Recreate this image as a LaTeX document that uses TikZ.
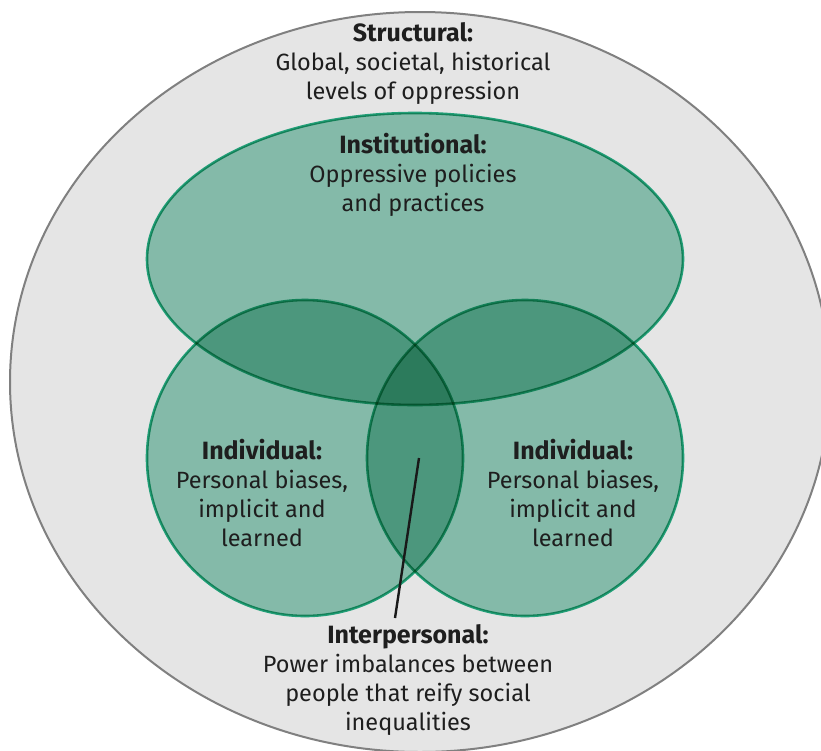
\documentclass[tikz,border=0pt]{standalone}
\usepackage{fontspec}
\setmainfont{Fira Sans}
\definecolor{bggray}{RGB}{229,229,229}
\definecolor{rimgray}{RGB}{128,128,128}
\definecolor{lensfill}{RGB}{148,208,189}
\definecolor{lensrim}{RGB}{38,178,134}
\definecolor{txt}{RGB}{30,30,30}
\newcommand{\hd}[1]{{\fontsize{25}{29}\selectfont\bfseries #1}}
\tikzset{
  x=1pt, y=-1pt,
  lens/.style={fill=lensfill, draw=lensrim, line width=2.6pt},
  label/.style={align=center, text=txt, font=\fontsize{23.5}{29}\selectfont, inner sep=0pt},
  pointer/.style={draw=black!90, line width=2.4pt}
}
\begin{document}
\begin{tikzpicture}
\useasboundingbox (0,0) rectangle (821,750);
\clip (0,0) rectangle (821,750);
\fill[white] (0,0) rectangle (821,750);
\draw[fill=bggray, draw=rimgray, line width=2pt] (420,382) ellipse [x radius=410, y radius=370];
\begin{scope}[blend mode=multiply]
  \draw[lens] (415,259) ellipse [x radius=268, y radius=146];
  \draw[lens] (305,458) circle [radius=158];
  \draw[lens] (525,458) circle [radius=158];
\end{scope}
\node[label] (structural) at (413,64) {\hd{Structural:}\\Global, societal, historical\\levels of oppression};
\node[label] (institutional) at (413,175) {\hd{Institutional:}\\Oppressive policies\\and practices};
\node[label] (indleft) at (262,493) {\hd{Individual:}\\Personal biases,\\implicit and\\learned};
\node[label] (indright) at (573,493) {\hd{Individual:}\\Personal biases,\\implicit and\\learned};
\node[label] (inter) at (408,680) {\hd{Interpersonal:}\\Power imbalances between\\people that reify social\\inequalities};
\coordinate (lens) at (419,458);
\coordinate (lensfoot) at (395,618);
\draw[pointer] (lens) -- (lensfoot);
\end{tikzpicture}
\end{document}
